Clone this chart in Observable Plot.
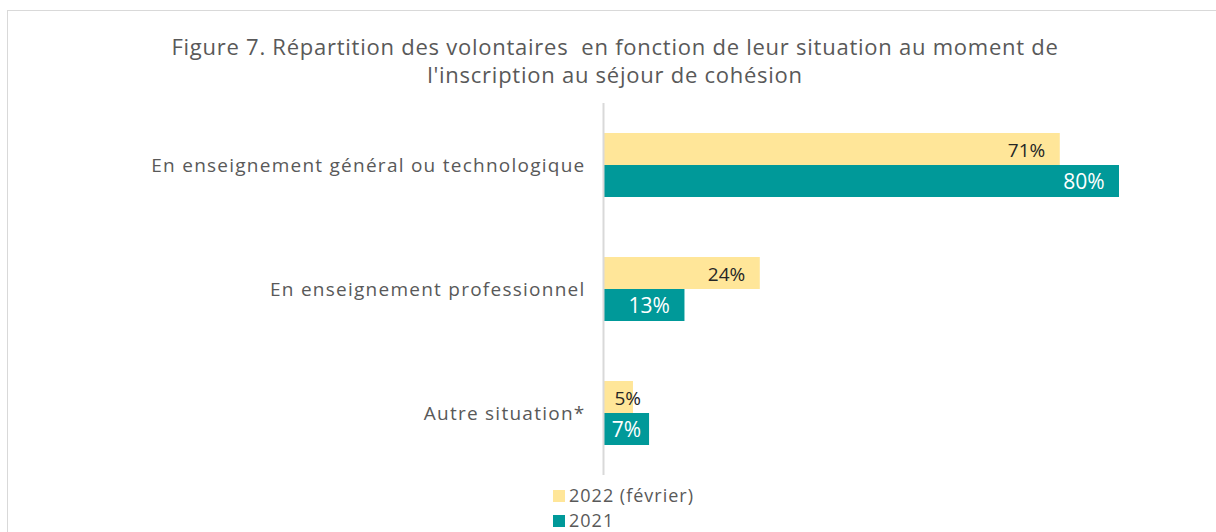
<!DOCTYPE html>
<html>
<head>
<meta charset="utf-8">
<script src="https://cdn.jsdelivr.net/npm/d3@7"></script>
<script src="https://cdn.jsdelivr.net/npm/@observablehq/plot@0.6"></script>
<style>
  html, body { margin: 0; padding: 0; background: #fff; }
  #wrap { position: relative; width: 1216px; height: 532px; overflow: hidden; font-family: "Open Sans", Lato, sans-serif; color: #595959; }
  #frame { position: absolute; left: 7px; top: 10px; width: 1300px; height: 700px; border: 1.5px solid #d9d9d9; box-sizing: border-box; }
  #title { position: absolute; left: 15px; top: 32px; width: 1200px; text-align: center; font-size: 22px; line-height: 28px; letter-spacing: 0.75px; color: #595959; }
  #chart { position: absolute; left: 0; top: 103px; }
  #legend { position: absolute; left: 553px; top: 483px; font-size: 18px; line-height: 25px; letter-spacing: 1px; color: #595959; }
  #legend .sw { display: inline-block; width: 12px; height: 12px; margin-right: 4px; vertical-align: 0px; }
  #chart g[aria-label="fy-axis tick label"] text { letter-spacing: 1.25px; }
</style>
</head>
<body>
<div id="wrap">
  <div id="frame"></div>
  <div id="title">Figure 7. Répartition des volontaires&nbsp; en fonction de leur situation au moment de<br>l'inscription au séjour de cohésion</div>
  <div id="chart"></div>
  <div id="legend"></div>
</div>
<script>
const categories = ["En enseignement général ou technologique", "En enseignement professionnel", "Autre situation*"];
const seriesNames = ["2022 (février)", "2021"];
const values2022 = [70.8, 24.2, 4.5];
const values2021 = [80, 12.5, 7.0];
const seriesColors = ["#FFE699", "#009999"];
const labelColors = ["#262626", "#ffffff"];

const data = [];
categories.forEach((c, i) => {
  data.push({category: c, series: seriesNames[0], value: values2022[i]});
  data.push({category: c, series: seriesNames[1], value: values2021[i]});
});

const chart = Plot.plot({
  width: 1216,
  height: 372,
  marginLeft: 604,
  marginRight: 97,
  marginTop: 0,
  marginBottom: 0,
  style: {fontFamily: "'Open Sans', Lato, sans-serif", color: "#595959", background: "transparent"},
  x: {domain: [0, 80], axis: null},
  y: {domain: seriesNames, paddingInner: 0, paddingOuter: 0.9375, axis: null},
  fy: {domain: categories, padding: 0, axis: null, label: null},
  color: {domain: seriesNames, range: seriesColors},
  marks: [
    Plot.barX(data, {x: "value", y: "series", fy: "category", fill: "series"}),
    Plot.text(data.filter(d => d.series === seriesNames[0]), {
      x: d => Math.max(d.value, 8), y: "series", fy: "category",
      text: d => Math.round(d.value) + "%", textAnchor: "end", dx: -15, dy: 1,
      fill: labelColors[0], fontSize: 19
    }),
    Plot.text(data.filter(d => d.series === seriesNames[1]), {
      x: d => Math.max(d.value, 8), y: "series", fy: "category",
      text: d => Math.round(d.value) + "%", textAnchor: "end", dx: -15, dy: 1,
      fill: labelColors[1], fontSize: 21
    }),
    Plot.axisFy({anchor: "left", tickSize: 0, tickPadding: 19, fontSize: 19, label: null}),
    Plot.ruleX([0], {stroke: "#d9d9d9", strokeWidth: 2, dx: -1})
  ]
});
document.getElementById("chart").appendChild(chart);

const legend = document.getElementById("legend");
seriesNames.forEach((s, i) => {
  const row = document.createElement("div");
  const sw = document.createElement("span");
  sw.className = "sw";
  sw.style.background = seriesColors[i];
  row.appendChild(sw);
  row.appendChild(document.createTextNode(s));
  legend.appendChild(row);
});
</script>
</body>
</html>
